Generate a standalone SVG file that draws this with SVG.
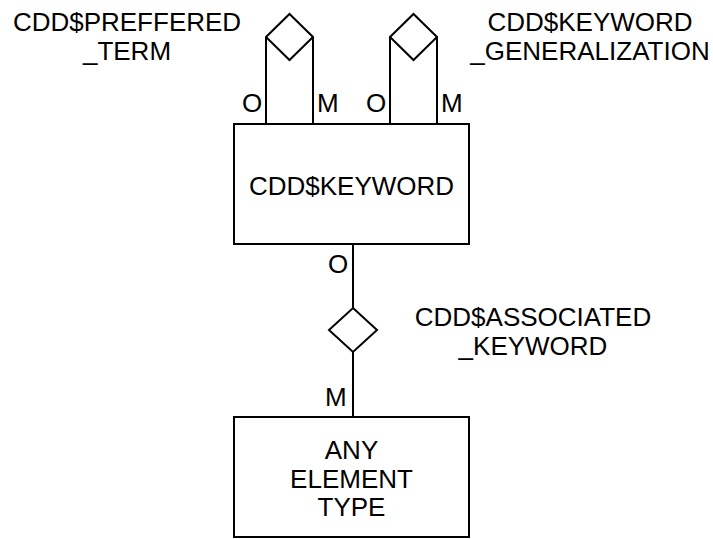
<svg xmlns="http://www.w3.org/2000/svg" width="713" height="539" viewBox="0 0 713 539">
<style>
.s{fill:none;stroke:#000;stroke-width:2}
.b{fill:#fff;stroke:#000;stroke-width:2}
text{font-family:"Liberation Sans",Arial,sans-serif;font-size:26px;fill:#000}
.c{text-anchor:middle}
</style>
<rect width="713" height="539" fill="#fff"/>
<g id="connectors">
<polyline class="s" points="266,124 266,37 289.5,14 313,37 313,124"/>
<polyline class="s" points="266,37 289.5,60 313,37"/>
<polyline class="s" points="390,124 390,37 413.5,14 437,37 437,124"/>
<polyline class="s" points="390,37 413.5,60 437,37"/>
<line class="s" x1="353" y1="244" x2="353" y2="308"/>
<line class="s" x1="353" y1="352" x2="353" y2="417"/>
<text x="242" y="112">O</text>
<text x="317" y="112">M</text>
<text x="366" y="112">O</text>
<text x="441" y="112">M</text>
<text x="328" y="273">O</text>
<text x="325" y="406">M</text>
</g>
<g id="rel_preffered_term">
<text class="c" x="127" y="31">CDD$PREFFERED</text>
<text class="c" x="127" y="60">_TERM</text>
</g>
<g id="rel_keyword_generalization">
<text class="c" x="590" y="31">CDD$KEYWORD</text>
<text class="c" x="590" y="60">_GENERALIZATION</text>
</g>
<g id="rel_associated_keyword">
<polygon class="b" points="353,308 377,330 353,352 329,330"/>
<text class="c" x="533" y="326">CDD$ASSOCIATED</text>
<text class="c" x="533" y="355">_KEYWORD</text>
</g>
<g id="cdd_keyword">
<rect class="b" x="234" y="124" width="235" height="120"/>
<text class="c" x="351.5" y="195">CDD$KEYWORD</text>
</g>
<g id="any_element_type">
<rect class="b" x="234" y="417" width="235" height="120"/>
<text class="c" x="351.5" y="459">ANY</text>
<text class="c" x="351.5" y="488">ELEMENT</text>
<text class="c" x="351.5" y="516">TYPE</text>
</g>
</svg>
